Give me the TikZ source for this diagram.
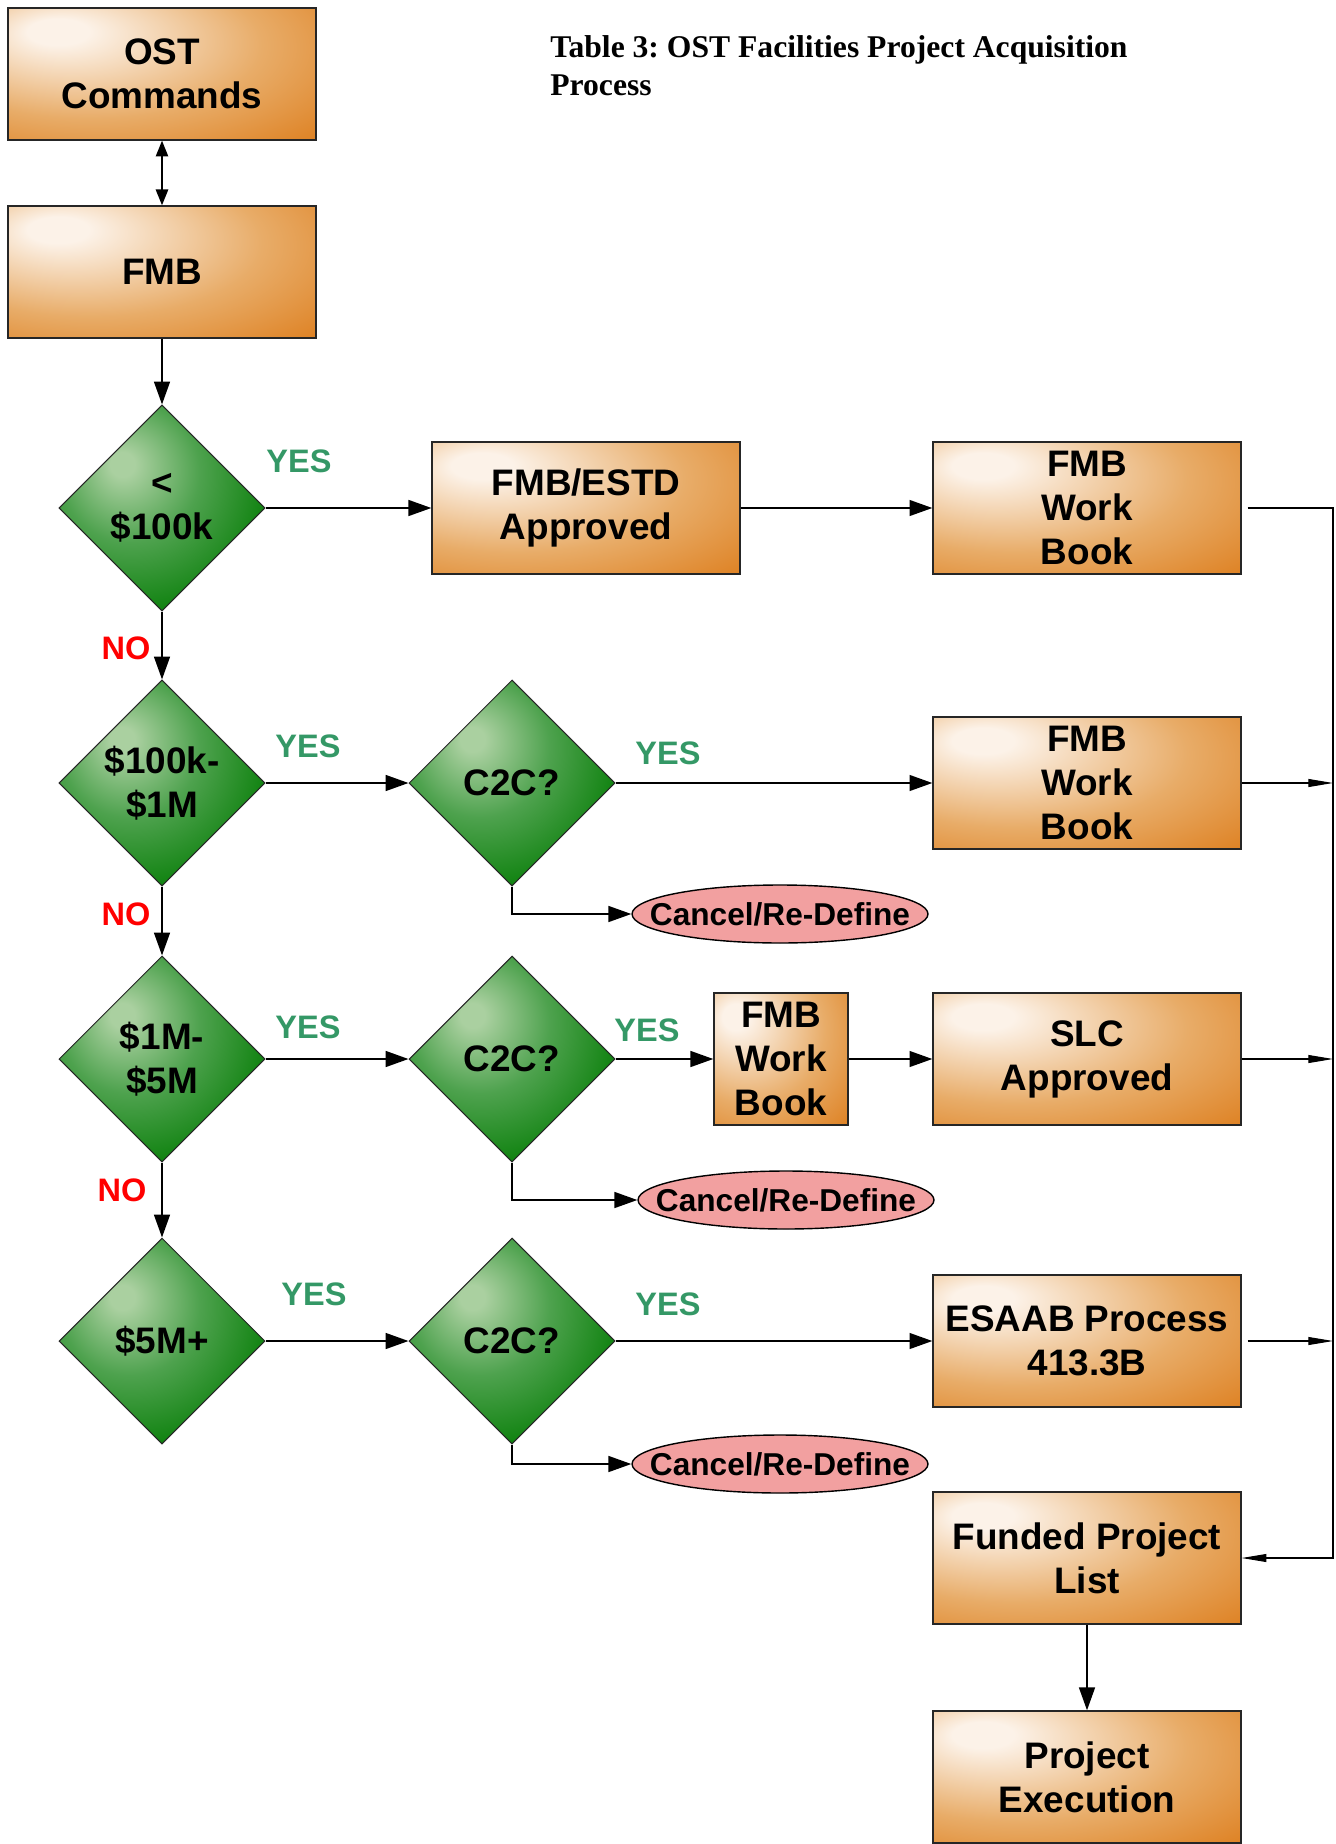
\documentclass[tikz,border=0pt]{standalone}
\usepackage{fontspec}
\setmainfont{Liberation Serif}
\setsansfont{Liberation Sans}
\usetikzlibrary{shapes.geometric,arrows.meta}
\definecolor{boxdark}{RGB}{222,130,36}
\definecolor{boxmid}{RGB}{232,172,104}
\definecolor{boxlight}{RGB}{252,242,232}
\definecolor{diadark}{RGB}{0,122,0}
\definecolor{diamid}{RGB}{78,162,78}
\definecolor{dialight}{RGB}{170,208,160}
\definecolor{yesgreen}{RGB}{52,152,102}
\definecolor{cancelpink}{RGB}{242,160,160}
\pgfdeclareradialshading{boxglow}{\pgfpoint{-18bp}{17bp}}{color(0bp)=(boxlight); color(5bp)=(boxlight); color(28bp)=(boxmid); color(46bp)=(boxdark); color(80bp)=(boxdark)}
\pgfdeclareradialshading{diaglow}{\pgfpoint{-10bp}{11bp}}{color(0bp)=(dialight); color(3bp)=(dialight); color(17bp)=(diamid); color(36bp)=(diadark); color(80bp)=(diadark)}
\begin{document}
\begin{tikzpicture}[x=0.02cm, y=-0.02cm,
    stepbox/.style={draw=black!85, line width=0.8pt, shading=boxglow, minimum width=6.16cm, minimum height=2.64cm,
        inner sep=1pt, align=center, font=\sffamily\bfseries\fontsize{21}{25}\selectfont},
    decision/.style={diamond, draw=black!85, line width=0.6pt, shading=diaglow, minimum width=4.12cm,
        minimum height=4.12cm, inner sep=0pt, align=center, font=\sffamily\bfseries\fontsize{21}{25}\selectfont},
    cancel/.style={ellipse, draw, line width=0.8pt, fill=cancelpink, minimum width=5.92cm, minimum height=1.16cm,
        inner sep=0pt, font=\sffamily\bfseries\fontsize{18}{21}\selectfont},
    yeslabel/.style={text=yesgreen, font=\sffamily\bfseries\fontsize{18.5}{21}\selectfont},
    nolabel/.style={text=red, font=\sffamily\bfseries\fontsize{18.5}{21}\selectfont},
    conn/.style={line width=1.1pt, -{Triangle[length=13pt,width=9pt]}},
    rail/.style={line width=0.6pt, -{Triangle[length=14pt,width=4.5pt]}}]
    \useasboundingbox (0,0) rectangle (1335,1844);
    %\draw[lightgray] (0,0) grid[step=100] (1335,1844);
    \node[anchor=north west, inner sep=0pt, align=left, font=\frenchspacing\bfseries\fontsize{18}{22}\selectfont] (title) at (550,35)
        {Table 3: OST Facilities Project Acquisition\\Process};
    \node[stepbox] (ost) at (162,74) {OST\\Commands};
    \node[stepbox] (fmb) at (162,272) {FMB};
    \node[decision] (lt) at (162,508) {<\\\$100k};
    \node[decision] (mid) at (162,783) {\$100k-\\\$1M};
    \node[decision] (big) at (162,1059) {\$1M-\\\$5M};
    \node[decision] (huge) at (162,1341) {\$5M+};
    \node[decision] (ctoca) at (512,783) {C2C?};
    \node[decision] (ctocb) at (512,1059) {C2C?};
    \node[decision] (ctocc) at (512,1341) {C2C?};
    \node[stepbox] (estd) at (586,508) {FMB/ESTD\\Approved};
    \node[stepbox] (wba) at (1087,508) {FMB\\Work\\Book};
    \node[stepbox] (wbb) at (1087,783) {FMB\\Work\\Book};
    \node[stepbox, minimum width=2.68cm] (wbc) at (781,1059) {FMB\\Work\\Book};
    \node[stepbox] (slc) at (1087,1059) {SLC\\Approved};
    \node[stepbox] (esaab) at (1087,1341) {ESAAB Process\\413.3B};
    \node[stepbox] (funded) at (1087,1558) {Funded Project\\List};
    \node[stepbox] (exec) at (1087,1777) {Project\\Execution};
    \node[cancel] (cancela) at (780,914) {\makebox[4cm]{Cancel/Re-Define}};
    \node[cancel] (cancelb) at (786,1200) {\makebox[4cm]{Cancel/Re-Define}};
    \node[cancel] (cancelc) at (780,1464) {\makebox[4cm]{Cancel/Re-Define}};
    \node[yeslabel] (yesa) at (299,461) {YES};
    \node[yeslabel] (yesb) at (308,746) {YES};
    \node[yeslabel] (yesc) at (668,753) {YES};
    \node[yeslabel] (yesd) at (308,1027) {YES};
    \node[yeslabel] (yese) at (647,1030) {YES};
    \node[yeslabel] (yesf) at (314,1294) {YES};
    \node[yeslabel] (yesg) at (668,1304) {YES};
    \node[nolabel] (noa) at (126,648) {NO};
    \node[nolabel] (nob) at (126,914) {NO};
    \node[nolabel] (noc) at (122,1190) {NO};
    \coordinate (railtop) at (1333,508);
    \draw[line width=1pt, {Triangle[length=9pt,width=7pt]}-{Triangle[length=9pt,width=7pt]}] (ost) -- (fmb);
    \draw[conn] (fmb) -- (lt);
    \draw[conn] (lt) -- (estd);
    \draw[conn] (estd) -- (wba);
    \draw[conn] (lt) -- (mid);
    \draw[conn] (mid) -- (ctoca);
    \draw[conn] (ctoca) -- (wbb);
    \draw[conn] (ctoca.south) |- (cancela.west);
    \draw[conn] (mid) -- (big);
    \draw[conn] (big) -- (ctocb);
    \draw[conn] (ctocb) -- (wbc);
    \draw[conn] (wbc) -- (slc);
    \draw[conn] (ctocb.south) |- (cancelb.west);
    \draw[conn] (big) -- (huge);
    \draw[conn] (huge) -- (ctocc);
    \draw[conn] (ctocc) -- (esaab);
    \draw[conn] (ctocc.south) |- (cancelc.west);
    \draw[conn] (funded) -- (exec);
    % right side rail
    \draw[rail] ([xshift=0.12cm]wba.east) -- (railtop) |- (funded.east);
    \draw[rail] (wbb.east) -- (wbb.east -| railtop);
    \draw[rail] (slc.east) -- (slc.east -| railtop);
    \draw[rail] ([xshift=0.12cm]esaab.east) -- (esaab.east -| railtop);
\end{tikzpicture}
\end{document}
